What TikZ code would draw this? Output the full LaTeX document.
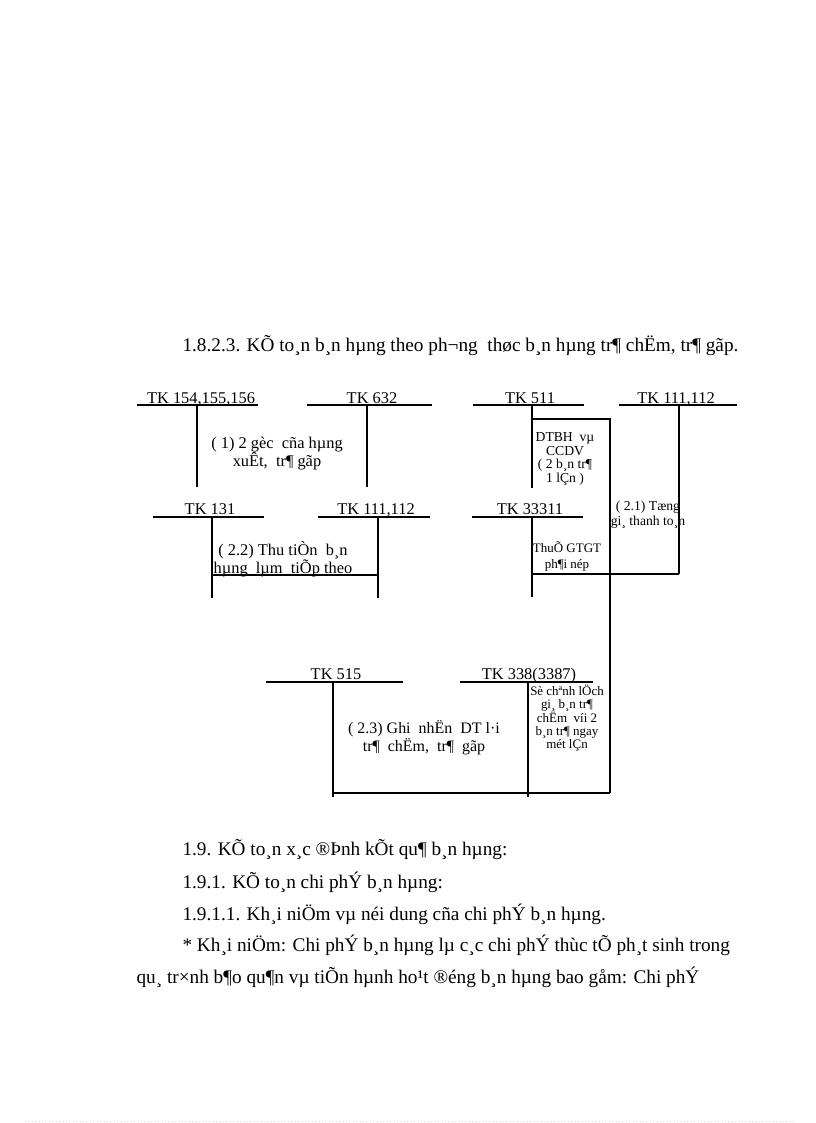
\documentclass[tikz,border=0pt]{standalone}
\usepackage{fontspec}
\setmainfont{Liberation Serif}
\begin{document}
\begin{tikzpicture}[x=0.7295bp,y=-0.7295bp,line width=0.8pt,
  tk/.style={font=\fontsize{12}{14}\selectfont,anchor=base,inner sep=0pt},
  note/.style={font=\fontsize{12}{13.2}\selectfont,align=center,inner sep=0pt},
  smallnote/.style={font=\fontsize{10}{10.2}\selectfont,align=center,inner sep=0pt},
  tinynote/.style={font=\fontsize{9.5}{9.5}\selectfont,align=center,inner sep=0pt},
  body/.style={font=\fontsize{14.1}{16}\selectfont,anchor=base west,inner sep=0pt}]
\useasboundingbox (0,0) rectangle (816,1123);

% heading
\node[body] (head) at (182,351) {1.8.2.3. KÕ to¸n b¸n hµng theo ph¬ng\ \ thøc b¸n hµng tr¶ chËm, tr¶ gãp.};

% ---------- row 1 ----------
\node[tk] (l154) at (201,403) {TK 154,155,156};
\node[tk] (l632) at (372,403) {TK 632};
\node[tk] (l511) at (530,403) {TK 511};
\node[tk] (l111a) at (676,403) {TK 111,112};

\coordinate (a1) at (137,405); \coordinate (a2) at (258,405);
\coordinate (a3) at (197,405); \coordinate (a4) at (197,487);
\draw (a1) -- (a2) (a3) -- (a4);
\coordinate (b1) at (307,405); \coordinate (b2) at (432,405);
\coordinate (b3) at (367,405); \coordinate (b4) at (367,487);
\draw (b1) -- (b2) (b3) -- (b4);
\coordinate (c1) at (473,405); \coordinate (c2) at (584,405);
\coordinate (c3) at (532,405); \coordinate (c4) at (532,488);
\draw (c1) -- (c2) (c3) -- (c4);
\coordinate (d1) at (619,405); \coordinate (d2) at (737,405);
\coordinate (d3) at (679,405); \coordinate (d4) at (679,574);
\draw (d1) -- (d2) (d3) -- (d4);
% big frame
\coordinate (f1) at (532,419); \coordinate (f2) at (610,419); \coordinate (f3) at (610,793);
\draw (f1) -- (f2) -- (f3);

\node[note] (n1) at (277,454) {( 1) 2 gèc\ \ cña hµng\\xuÊt,\ \ tr¶ gãp};
\node[smallnote] (n511) at (565,459) {DTBH\ \ vµ\\CCDV\\( 2 b¸n tr¶\\1 lÇn )};

% ---------- row 2 ----------
\node[tk] (l131) at (210,514) {TK 131};
\node[tk] (l111b) at (376,514) {TK 111,112};
\node[tk] (l333) at (530,514) {TK 33311};

\coordinate (e1) at (153,517); \coordinate (e2) at (264,517);
\coordinate (e3) at (212,517); \coordinate (e4) at (212,598);
\draw (e1) -- (e2) (e3) -- (e4);
\coordinate (g1) at (318,517); \coordinate (g2) at (430,517);
\coordinate (g3) at (378,517); \coordinate (g4) at (378,598);
\draw (g1) -- (g2) (g3) -- (g4);
\coordinate (h1) at (213,575);
\draw (h1) -- (g3 |- h1);
\coordinate (i1) at (472,517); \coordinate (i2) at (583,517);
\coordinate (i3) at (532,517); \coordinate (i4) at (532,597);
\draw (i1) -- (i2) (i3) -- (i4);
\coordinate (j1) at (532,574);
\draw (j1) -- (d4);

\node[note] (n22) at (283,559) {( 2.2) Thu tiÒn\ \ b¸n\\hµng\ \ lµm\ \ tiÕp theo};
\node[smallnote,font=\fontsize{10}{11}\selectfont] (n21) at (648,515) {( 2.1) Tæng\\gi¸ thanh to¸n};
\node[smallnote,font=\fontsize{9.5}{11.7}\selectfont] (nthue) at (567,556) {ThuÕ GTGT\\ph¶i nép};

% ---------- row 3 ----------
\node[tk] (l515) at (336,679) {TK 515};
\node[tk] (l338) at (529,679) {TK 338(3387)};

\coordinate (k1) at (266,682); \coordinate (k2) at (403,682);
\coordinate (k3) at (333,682); \coordinate (k4) at (333,797);
\draw (k1) -- (k2) (k3) -- (k4);
\coordinate (m1) at (460,682); \coordinate (m2) at (593,682);
\coordinate (m3) at (528,682); \coordinate (m4) at (528,797);
\draw (m1) -- (m2) (m3) -- (m4);
\coordinate (p1) at (333,793);
\draw (p1) -- (f3);

\node[note,font=\fontsize{11.7}{13.2}\selectfont] (n23) at (424,738) {( 2.3) Ghi\ \ nhËn\ \ DT l·i\\tr¶\ \ chËm,\ \ tr¶\ \ gãp};
\node[tinynote] (n338) at (567,718) {Sè chªnh lÖch\\gi¸ b¸n tr¶\\chËm\ \ víi 2\\b¸n tr¶ ngay\\mét lÇn};

% ---------- body text ----------
\node[body] (t1) at (182,855) {1.9. KÕ to¸n x¸c ®Þnh kÕt qu¶ b¸n hµng:};
\node[body] (t2) at (182,888) {1.9.1. KÕ to¸n chi phÝ b¸n hµng:};
\node[body] (t3) at (182,920) {1.9.1.1. Kh¸i niÖm vµ néi dung cña chi phÝ b¸n hµng.};
\node[body] (t4) at (182,951) {* Kh¸i niÖm: Chi phÝ b¸n hµng lµ c¸c chi phÝ thùc tÕ ph¸t sinh trong};
\node[body] (t5) at (136,983) {qu¸ tr×nh b¶o qu¶n vµ tiÕn hµnh ho¹t ®éng b¸n hµng bao gåm: Chi phÝ};

% faint page edge
\coordinate (z1) at (25,1121); \coordinate (z2) at (795,1121);
\draw[gray!35,dotted,line width=0.5pt] (z1) -- (z2);
\end{tikzpicture}
\end{document}
